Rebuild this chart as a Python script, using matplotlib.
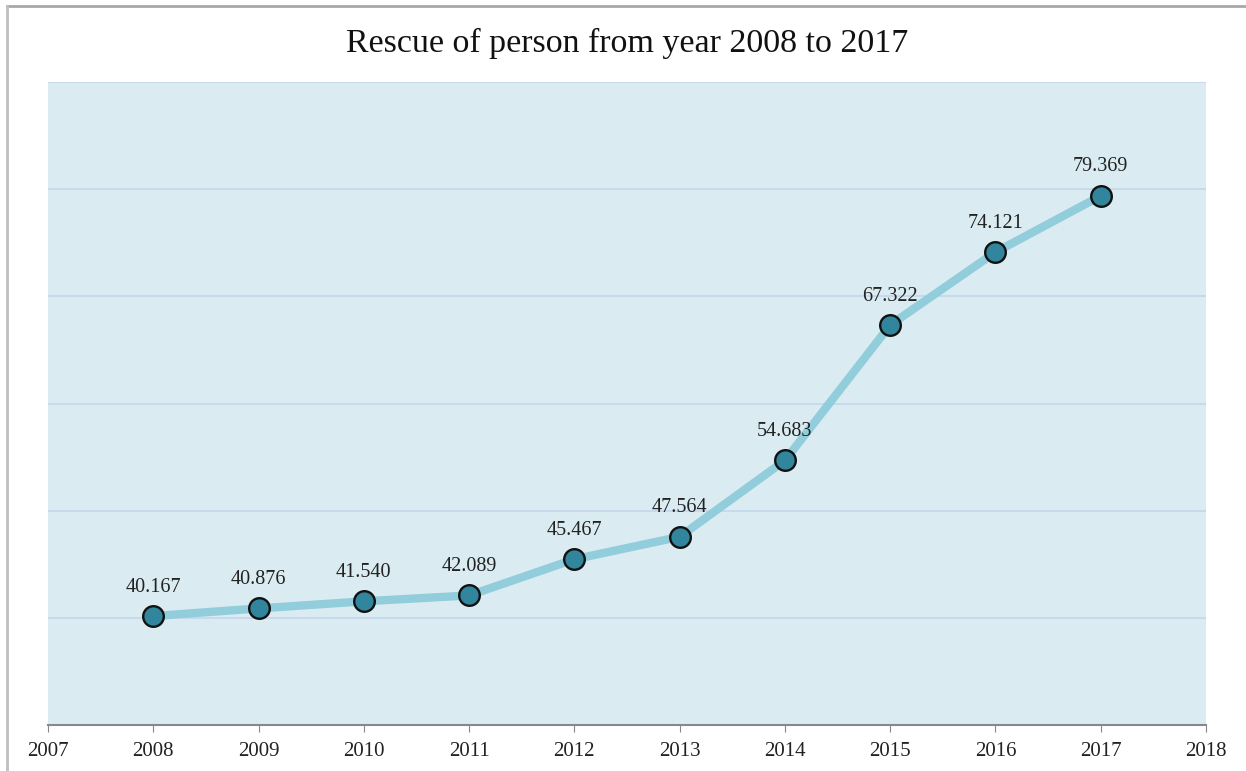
import matplotlib.pyplot as plt
from matplotlib.lines import Line2D

years = [2008, 2009, 2010, 2011, 2012, 2013, 2014, 2015, 2016, 2017]
rescued = [40.167, 40.876, 41.540, 42.089, 45.467, 47.564, 54.683, 67.322, 74.121, 79.369]
xticks = list(range(2007, 2019))

plt.rcParams['font.family'] = ['Liberation Serif', 'DejaVu Serif']

fig = plt.figure(figsize=(12.46, 7.71), dpi=100)
ax = fig.add_axes([48 / 1246, 1 - 725 / 771, (1206 - 48) / 1246, (725 - 82) / 771])
ax.set_facecolor('#daecf2')

# light horizontal grid, no y labels
for y in [40, 50, 60, 70, 80, 90]:
    ax.axhline(y, color='#c5d6ec', lw=1.2, zorder=1)

ax.plot(years, rescued, color='#92cddc', lw=6, zorder=2, solid_capstyle='round')
ax.scatter(years, rescued, s=220, color='#31859c', edgecolor='#111111',
           linewidth=1.7, zorder=3)

for x, v in zip(years, rescued):
    ax.annotate(f'{v:.3f}', (x, v), xytext=(0, 14), textcoords='offset points',
                ha='center', va='bottom', fontsize=14.5, color='#222222')

ax.set_xlim(2007, 2018)
ax.set_ylim(30, 90)
ax.set_xticks(xticks)
ax.set_xticklabels([str(t) for t in xticks], fontsize=15, color='#222222')
ax.set_yticks([])
ax.tick_params(axis='x', length=5, color='#888888', pad=7)
for side in ['top', 'right', 'left']:
    ax.spines[side].set_visible(False)
ax.spines['bottom'].set_color('#888888')
ax.spines['bottom'].set_linewidth(1.5)

fig.text(627 / 1246, 1 - 43 / 771, 'Rescue of person from year 2008 to 2017',
         ha='center', va='center', fontsize=24.5, color='#111111')

# outer frame lines
fig.add_artist(Line2D([7 / 1246, 1], [1 - 6 / 771, 1 - 6 / 771],
                      transform=fig.transFigure, color='#a8a8a8', lw=2))
fig.add_artist(Line2D([7 / 1246, 7 / 1246], [0, 1 - 6 / 771],
                      transform=fig.transFigure, color='#c0c0c0', lw=2))

fig.savefig('out.png', dpi=100)
